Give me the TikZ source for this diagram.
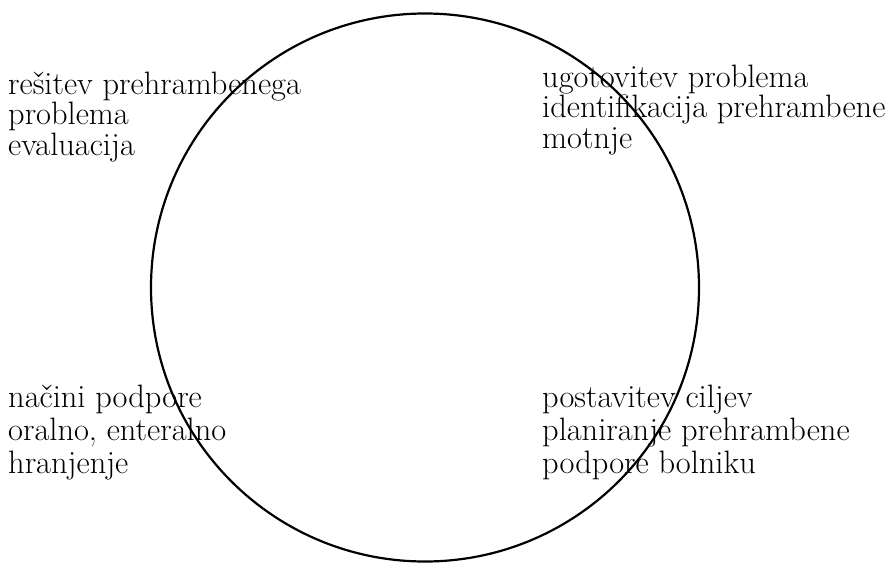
\documentclass[tikz,border=0pt]{standalone}
\usepackage{fontspec}
\begin{document}
\begin{tikzpicture}[x=1pt,y=-1pt,
  lbl/.style={align=left, inner sep=0pt, anchor=base west, font=\fontsize{32.4}{30.5}\selectfont},
  lblb/.style={lbl, font=\fontsize{32.4}{33}\selectfont},
  ring/.style={draw=black, line width=2.2pt}]
\useasboundingbox (0,0) rectangle (889,565);
\node[circle, ring, minimum size=548pt, inner sep=0pt] (cyc) at (425,287.5) {};
\node[lbl] (tl) at (8,155) {rešitev prehrambenega\\problema\\evaluacija};
\node[lbl] (tr) at (542,148) {ugotovitev problema\\identifikacija prehrambene\\motnje};
\node[lblb] (bl) at (8,473) {načini podpore\\oralno, enteralno\\hranjenje};
\node[lblb] (br) at (542,473) {postavitev ciljev\\planiranje prehrambene\\podpore bolniku};
\end{tikzpicture}
\end{document}
